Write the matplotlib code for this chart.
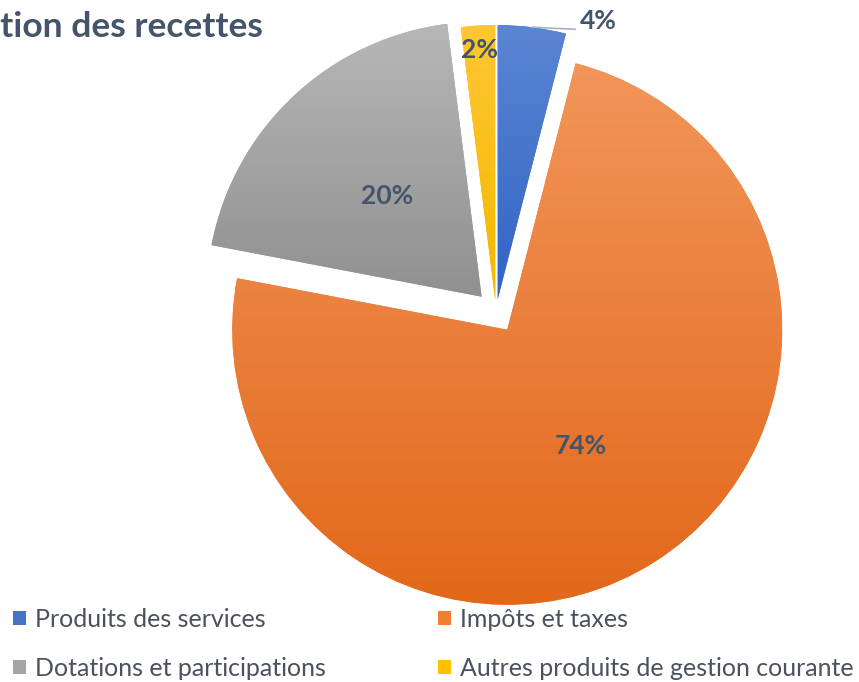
import numpy as np
import matplotlib.pyplot as plt
from matplotlib.colors import LinearSegmentedColormap

# data
categories = ["Produits des services", "Impôts et taxes",
              "Dotations et participations", "Autres produits de gestion courante"]
values = [4, 74, 20, 2]
title = "Répartition des recettes"

base_colors = ["#4472C4", "#F07F32", "#A5A5A5", "#FFC000"]
grad_top = ["#5B86D3", "#F2955A", "#B7B7B7", "#FFC733"]
grad_bottom = ["#3163C4", "#E2681A", "#909090", "#F2B800"]

W, H = 859, 682
txt_color = "#44546A"
plt.rcParams["font.family"] = ["Lato", "DejaVu Sans"]

fig = plt.figure(figsize=(W / 100, H / 100), dpi=100)
ax = fig.add_axes([0, 0, 1, 1])

# explode is in data units here (pixels)
wedges, texts, autotexts = ax.pie(
    values,
    colors=base_colors,
    startangle=90,
    counterclock=False,
    center=(496, H - 312),
    radius=275,
    explode=[12, 21, 21, 12],
    autopct="%1.0f%%",
    pctdistance=0.5,
    wedgeprops=dict(linewidth=0),
    textprops=dict(color=txt_color, fontsize=19, fontweight="bold"),
)

ax.set_xlim(0, W)
ax.set_ylim(0, H)
ax.set_aspect("equal")
ax.axis("off")

# vertical gradient inside each slice
for w, c0, c1 in zip(wedges, grad_top, grad_bottom):
    bb = w.get_path().get_extents()
    cmap = LinearSegmentedColormap.from_list("g", [c1, c0])
    grad = np.linspace(0, 1, 256).reshape(-1, 1)
    im = ax.imshow(grad, cmap=cmap, origin="lower", aspect="auto",
                   extent=(bb.x0, bb.x1, bb.y0, bb.y1), zorder=w.get_zorder() + 0.1)
    im.set_clip_path(w)
for t in autotexts:
    t.set_zorder(5)
ax.set_xlim(0, W)
ax.set_ylim(0, H)

# small slices: move labels
def mid_point(w, frac):
    ang = np.deg2rad((w.theta1 + w.theta2) / 2)
    return (w.center[0] + frac * w.r * np.cos(ang),
            w.center[1] + frac * w.r * np.sin(ang))

autotexts[3].set_position(mid_point(wedges[3], 0.91))
px, py = mid_point(wedges[0], 1.0)
ax.plot([px, px + 43], [py, py - 2], color="#A6B2C4", lw=1.2, zorder=4)
autotexts[0].set_position((px + 66, py + 6))

fig.text(263 / W, 1 - 37 / H, title, ha="right", va="baseline",
         fontsize=25.5, fontweight="bold", color=txt_color)

# legend filled row by row, as in the original
order = [0, 2, 1, 3]
leg = fig.legend([wedges[i] for i in order], [categories[i] for i in order],
                 ncol=2, loc="upper left",
                 bbox_to_anchor=(13 / W, 1 - 608 / H), frameon=False,
                 borderpad=0, borderaxespad=0,
                 fontsize=18, handlelength=0.5, handleheight=0.5,
                 handletextpad=0.37, columnspacing=4.5, labelspacing=1.03)
for t in leg.get_texts():
    t.set_color("#4A5260")

fig.savefig("out.png", dpi=100)
